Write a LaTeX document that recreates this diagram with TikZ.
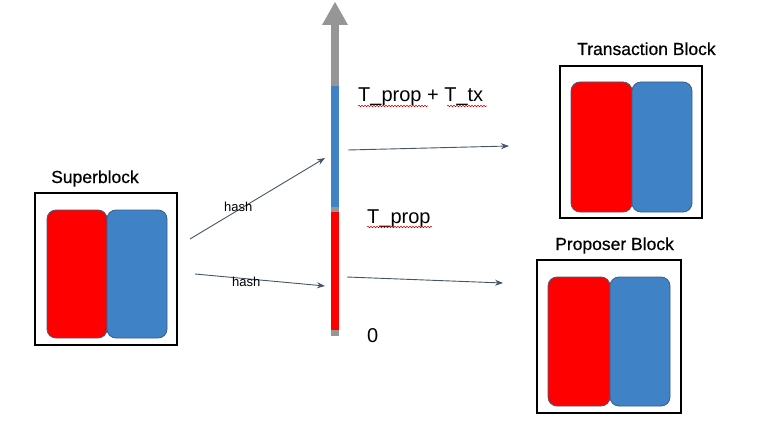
\documentclass[tikz,border=0pt]{standalone}
\usepackage{fontspec}
\setmainfont{Liberation Sans}
\usetikzlibrary{arrows.meta,decorations.pathmorphing}
\definecolor{blk}{RGB}{63,131,198}
\definecolor{redk}{RGB}{255,0,0}
\definecolor{edgec}{RGB}{65,92,130}
\definecolor{arrc}{RGB}{68,84,106}
\definecolor{axgray}{RGB}{150,150,150}
\tikzset{
  outerbox/.style={draw=black, line width=2pt, minimum width=#1, inner sep=0pt},
  redpart/.style={draw=edgec, line width=0.8pt, fill=redk, rounded corners=9pt, inner sep=0pt},
  bluepart/.style={draw=edgec, line width=0.8pt, fill=blk, rounded corners=9pt, inner sep=0pt},
  conn/.style={draw=arrc, line width=0.9pt, -{Stealth[length=8pt,width=6pt]}},
  title/.style={font=\fontsize{17.5}{20}\selectfont\addfontfeature{FakeBold=0.6}, inner sep=0pt, anchor=base west},
  big/.style={font=\fontsize{20}{24}\selectfont, inner sep=0pt, anchor=base west},
  small/.style={font=\fontsize{13}{15}\selectfont, inner sep=0pt, anchor=base west},
  squig/.style={draw=red!80!black, line width=0.5pt, decorate, decoration={snake, amplitude=0.8pt, segment length=3pt}}
}
\begin{document}
\begin{tikzpicture}[x=1pt,y=-1pt]
\useasboundingbox (0,0) rectangle (759,425);
% Superblock
\node[outerbox=142pt, minimum height=152pt] (sb) at (106,269) {};
\node[redpart, minimum width=60pt, minimum height=128pt] (sbr) at (77,274) {};
\node[bluepart, minimum width=60pt, minimum height=128pt] (sbb) at (137,274) {};
\node[title] (sbt) at (51,183) {Superblock};
% Transaction block
\node[outerbox=142pt, minimum height=152pt] (tb) at (631,142) {};
\node[redpart, minimum width=61pt, minimum height=130pt] (tbr) at (601.5,147) {};
\node[bluepart, minimum width=60pt, minimum height=130pt] (tbb) at (662,147) {};
\node[title] (tbt) at (577,55) {Transaction Block};
% Proposer block
\node[outerbox=144pt, minimum height=153pt] (pb) at (609,336.5) {};
\node[redpart, minimum width=62pt, minimum height=129pt] (pbr) at (579,341.5) {};
\node[bluepart, minimum width=60pt, minimum height=129pt] (pbb) at (640,341.5) {};
\node[title] (pbt) at (555,250) {Proposer Block};
% Axis
\coordinate (axb) at (335,336);
\coordinate (axt) at (335,24);
\fill[axgray] (331,336) rectangle (339,24);
\fill[axgray] (322,25) -- (335,2) -- (348,25) -- cycle;
\fill[blk] (331,86) rectangle (339,207);
\fill[redk] (331,212) rectangle (339,330);
% Axis labels
\node[big] (ltop) at (358,102) {T\_prop + T\_tx};
\node[big] (lmid) at (367,223) {T\_prop};
\node[big] (lzero) at (367,342) {0};
\draw[squig] (358,106) -- (428,106);
\draw[squig] (447,106) -- (487,106);
\draw[squig] (367,227) -- (432,227);
% Connectors
\coordinate (h1s) at (190,239);
\coordinate (h1e) at (325,158);
\coordinate (h2s) at (195,274);
\coordinate (h2e) at (325,286);
\coordinate (r1s) at (348,150);
\coordinate (r1e) at (509,146);
\coordinate (r2s) at (347,277);
\coordinate (r2e) at (503,283);
\draw[conn] (h1s) -- (h1e);
\draw[conn] (h2s) -- (h2e);
\draw[conn] (r1s) -- (r1e);
\draw[conn] (r2s) -- (r2e);
\node[small] (hash1) at (224,211) {hash};
\node[small] (hash2) at (232,286) {hash};
\end{tikzpicture}
\end{document}
